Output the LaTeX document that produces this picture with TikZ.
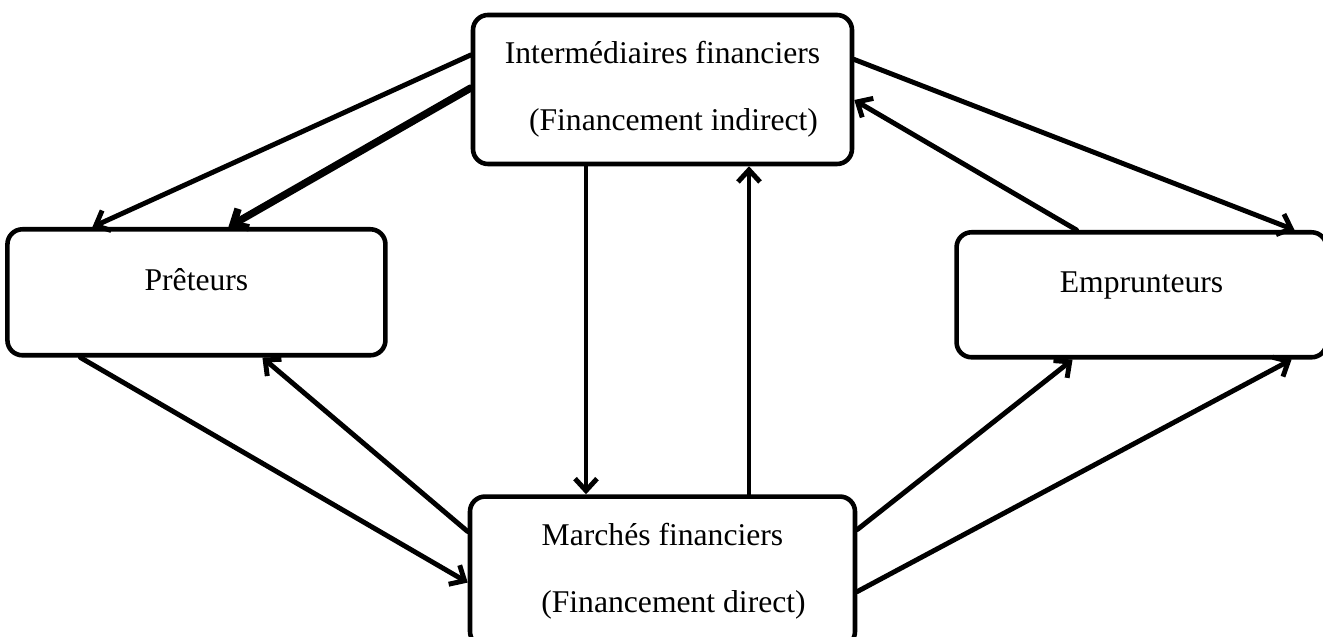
\documentclass[tikz,border=0pt]{standalone}
\usepackage{fontspec}
\setmainfont{Liberation Serif}
\usepackage{tikz}
\usetikzlibrary{arrows.meta,positioning}

\begin{document}
\begin{tikzpicture}[->,>={Straight Barb[length=2.4mm,width=4.4mm]},
  line width=2.8pt,line cap=round,
  main node/.style={rectangle,rounded corners=0.3cm,draw,fill=white,
  line width=2.6pt,align=center,font=\fontsize{18}{22}\selectfont},
  side node/.style={main node,text depth=14pt}]

  \useasboundingbox (0,0) rectangle (26.46,-12.74);

  \node[main node, minimum width=7.58cm, minimum height=2.98cm] (I) at (13.25,-1.79)
    {Interm\'ediaires financiers\\[16pt]\hspace*{0.44cm}(Financement indirect)};
  \node[main node, minimum width=7.70cm, minimum height=3.0cm] (M) [below=6.56cm of I]
    {March\'es financiers\\[16pt]\hspace*{0.44cm}(Financement direct)};
  \node[side node, minimum width=7.56cm, minimum height=2.52cm] (P)
    [below left=2.75cm and 1.66cm of I.west] {Pr\^eteurs};
  \node[side node, minimum width=7.40cm, minimum height=2.50cm] (E)
    [below right=2.81cm and 2.0cm of I.east] {Emprunteurs};

  % upper half: intermediaries to lenders and borrowers
  \path
    ([yshift=0.69cm]I.west) edge ([xshift=-2.08cm]P.north)
    ([yshift=0.03cm]I.west) edge[line width=4.2pt] ([xshift=0.64cm]P.north)
    ([yshift=0.6cm]I.east) edge ([xshift=3.06cm]E.north)
    ([xshift=-1.3cm]E.north) edge ([yshift=-0.21cm]I.east);

  % middle: between intermediaries and markets
  \path
    ([xshift=-1.53cm]I.south) edge ([xshift=-1.53cm]M.north)
    ([xshift=1.73cm]M.north) edge ([xshift=1.73cm]I.south);

  % lower half: markets to lenders and borrowers
  \path
    ([xshift=-2.32cm]P.south) edge ([yshift=-0.22cm]M.west)
    ([yshift=0.8cm]M.west) edge ([xshift=1.32cm]P.south)
    ([yshift=0.84cm]M.east) edge ([xshift=-1.38cm]E.south)
    ([yshift=-0.4cm]M.east) edge ([xshift=3.0cm]E.south);

\end{tikzpicture}
\end{document}
